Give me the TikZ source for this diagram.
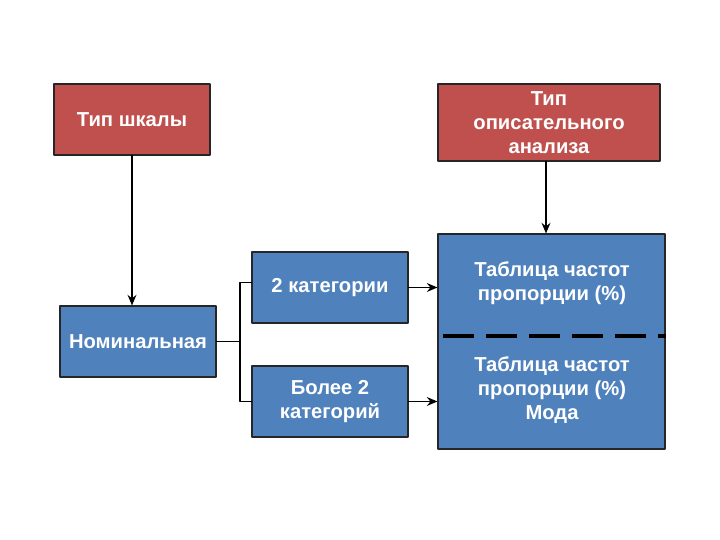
\documentclass[tikz,border=0pt]{standalone}
\usepackage{fontspec}
\setmainfont{Liberation Sans}
\usetikzlibrary{arrows.meta}
\definecolor{boxred}{HTML}{C0504D}
\definecolor{boxblue}{HTML}{4F81BD}
\begin{document}
\begin{tikzpicture}[line cap=round,line join=round,>={Stealth[length=6pt,width=5pt]},
  box/.style={draw=black!85,line width=0.6pt,text=white,font=\bfseries\fontsize{11.5}{13.5}\selectfont,align=center,inner sep=0pt},
  redbox/.style={box,fill=boxred},
  bluebox/.style={box,fill=boxblue},
  link/.style={line width=1.1pt}]
  \useasboundingbox (0,0) rectangle (14.4,10.8);
  \node[redbox,minimum width=3.12cm,minimum height=1.42cm] (shkala) at (2.64,8.41) {Тип шкалы};
  \node[redbox,minimum width=4.44cm,minimum height=1.54cm] (analiz) at (10.98,8.35) {Тип\\описательного\\анализа};
  \node[bluebox,minimum width=4.54cm,minimum height=4.30cm] (tabl) at (11.03,3.97) {};
  \node[bluebox,minimum width=3.12cm,minimum height=1.42cm] (nomin) at (2.76,3.97) {Номинальная};
  \node[bluebox,minimum width=3.12cm,minimum height=1.42cm] (kat2) at (6.60,5.05) {2 категории};
  \node[bluebox,minimum width=3.12cm,minimum height=1.42cm] (kat3) at (6.60,2.77) {Более 2\\категорий};
  \node[box,draw=none] (res1) at (11.04,5.14) {Таблица частот\\пропорции (\%)};
  \node[box,draw=none] (res2) at (11.04,3.00) {Таблица частот\\пропорции (\%)\\Мода};
  \coordinate (fork) at (4.80,3.97);
  % connectors
  \draw[link,->] (shkala.south) -- (shkala.south |- nomin.north);
  \draw[link,->] ([xshift=-0.06cm]analiz.south) -- ([xshift=-0.06cm]analiz.south |- tabl.north);
  \draw[link] (nomin.east) -- (fork);
  \draw[link] ([yshift=0.1cm]kat2.west) -| (fork) |- (kat3.west);
  \draw[link,->] (kat2.east) -- (kat2.east -| tabl.west);
  \draw[link,->] (kat3.east) -- (kat3.east -| tabl.west);
  \draw[line width=2.4pt,line cap=butt,dash pattern=on 0.62cm off 0.24cm] ([xshift=0.12cm]tabl.west |- 0,4.08) -- (tabl.east |- 0,4.08);
\end{tikzpicture}
\end{document}
